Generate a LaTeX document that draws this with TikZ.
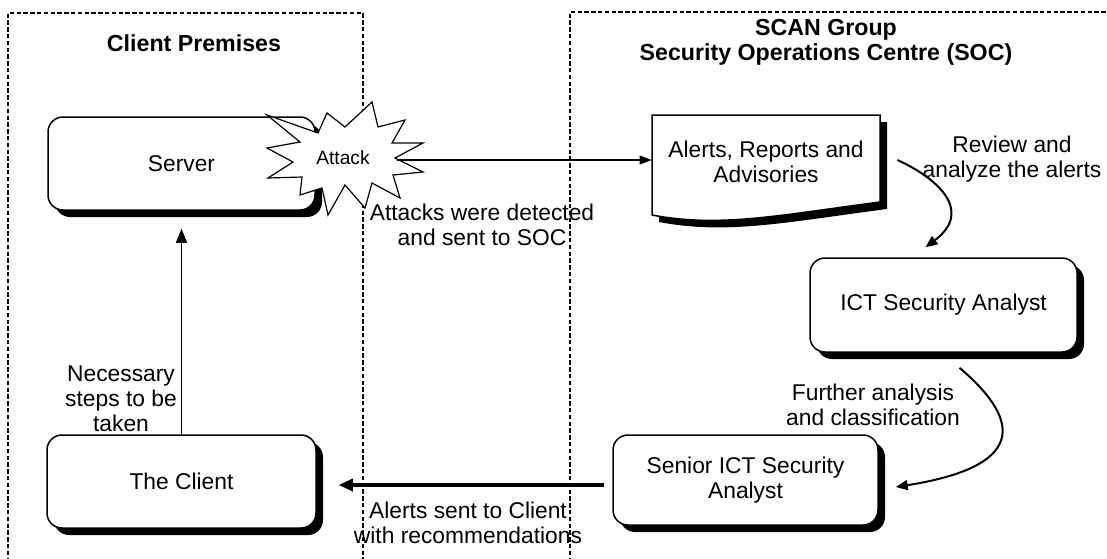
\documentclass[tikz,border=0pt]{standalone}
\usepackage{fontspec}
\setmainfont{Liberation Sans}
\usetikzlibrary{arrows.meta,shadows,calc}
\begin{document}
\begin{tikzpicture}[x=0.5pt,y=-0.5pt,
  every node/.style={font=\fontsize{11.4}{12.6}\selectfont, inner sep=0pt, align=center},
  frame/.style={line width=0.6pt, dash pattern=on 2.2pt off 1.2pt},
  head/.style={font=\fontsize{11.6}{12.6}\selectfont\bfseries},
  procbox/.style={draw, fill=white, line width=0.75pt, rounded corners=7.5pt,
    drop shadow={shadow xshift=3.5pt, shadow yshift=-3.5pt, fill=black, opacity=1}},
  thinarrow/.style={line width=0.6pt, -{Triangle[length=6pt,width=4.5pt]}},
  curvearrow/.style={line width=1pt, -{Triangle[length=6pt,width=5pt]}},
  boldarrow/.style={line width=1.6pt, -{Triangle[length=7pt,width=6pt]}},
]
\useasboundingbox (0,0) rectangle (1107,558);

% dashed zone frames
\draw[frame] (8,562) -- (8,13) -- (363,13) -- (363,562);
\draw[frame] (570,562) -- (570,12) -- (1110,12);

% zone headings
\node[head] (cp) at (194,43) {Client Premises};
\node[head] (soc) at (826,42) {SCAN Group\\Security Operations Centre (SOC)};

% process boxes
\node[procbox, minimum width=133.5pt, minimum height=46.5pt] (server) at (181.5,163.5) {Server};
\node[procbox, minimum width=133.5pt, minimum height=47pt] (ict) at (943.5,305) {ICT Security Analyst};
\node[procbox, minimum width=132.5pt, minimum height=45pt] (senior) at (745.5,480) {Senior ICT Security\\Analyst};
\node[procbox, minimum width=134.5pt, minimum height=46.5pt] (client) at (181.5,481.5) {The Client};

% attack burst
\draw[fill=white, line width=0.6pt]
  (372,102) -- (378,127) -- (405,120) -- (392,143) -- (423,143) -- (395,158)
  -- (423,172) -- (393,175) -- (400,198) -- (372,183) -- (365,208) -- (345,185)
  -- (328,215) -- (322,188) -- (300,195) -- (302,177) -- (268,178) -- (293,162)
  -- (267,148) -- (300,142) -- (267,115) -- (318,133) -- (327,113) -- (345,127) -- cycle;
\node[font=\fontsize{9.6}{11}\selectfont] (attack) at (343,158) {Attack};
\coordinate (burst) at (397,160);

% document shape for the alerts
\node[minimum width=114pt, minimum height=45pt] (alerts) at (766,160) {};
\fill[black, shift={(7,7)}] (652,115) -- (880,115) -- (880,202)
  .. controls (780,215) and (720,228) .. (652,215) -- cycle;
\draw[fill=white, line width=0.75pt] (652,115) -- (880,115) -- (880,202)
  .. controls (780,215) and (720,228) .. (652,215) -- cycle;
\node at (766,162) {Alerts, Reports and\\Advisories};

% connectors
\draw[thinarrow] (burst) -- (alerts.west);
\draw[curvearrow] ($(alerts.east)+(17,0)$) .. controls (935,177) and (975,210) .. ($(ict.north)+(-18,-10)$);
\draw[curvearrow] ($(ict.south)+(16,15)$) .. controls (1015,415) and (1035,465) .. ($(senior.east)+(17,7)$);
\draw[boldarrow] ($(senior.west)+(-8,5)$) -- ($(client.east)+(22,3.5)$);
\draw[line width=0.8pt, -{Triangle[length=7pt,width=5.5pt]}] (client.north) -- ($(server.south)+(0,18)$);

% connector labels
\node (lab1) at (482,225) {Attacks were detected\\and sent to SOC};
\node (lab2) at (1012,159) {Review and\\analyze the alerts};
\node (lab3) at (873,405) {Further analysis\\and classification};
\node (lab4) at (121,399) {Necessary\\steps to be\\taken};
\node (lab5) at (468,523) {Alerts sent to Client\\with recommendations};
\end{tikzpicture}
\end{document}
